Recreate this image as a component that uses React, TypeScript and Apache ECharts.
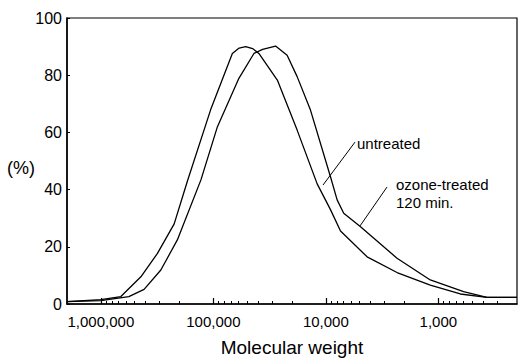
import React, { useEffect, useRef } from "react";
import * as echarts from "echarts";

// Molecular weight (x, log scale, reversed) and percentage (y)
const untreatedMW = [2000000, 1000000, 664000, 441000, 314000, 223000, 170000, 106000, 67800, 59000, 51600, 44800, 39400, 27000, 18000, 11950, 9100, 7410, 4300, 2330, 1180, 638, 370, 200];
const untreatedPct = [0.8, 1.5, 2.6, 9.5, 17.7, 28, 43, 67.8, 87.6, 89.5, 90, 89.3, 87.6, 78.3, 60.8, 42, 33, 25.5, 16.5, 11, 6.6, 3.5, 2.3, 2.3];

const ozoneMW = [2000000, 1000000, 564000, 413000, 293000, 209000, 129000, 92000, 59300, 43600, 36500, 28000, 22100, 18000, 13700, 9100, 7940, 6940, 4920, 2330, 1180, 597, 370, 200];
const ozonePct = [0.8, 1.15, 2.6, 5.1, 11.9, 22.4, 43.4, 62, 78.9, 87.6, 89, 90.2, 87, 79.5, 67.8, 44.5, 36.4, 31.7, 27, 16, 8.4, 4.3, 2.3, 2.3];

const majorTicks = [1000000, 100000, 10000, 1000];
const minorTicks = [
  900000, 800000, 700000, 600000, 500000, 400000, 300000, 200000,
  90000, 80000, 70000, 60000, 50000, 40000, 30000, 20000,
  9000, 8000, 7000, 6000, 5000, 4000, 3000, 2000,
  900, 800, 700, 600, 500, 400, 300,
];
const yTicks = [0, 20, 40, 60, 80, 100];

const FONT = "'Liberation Sans', Arial, Helvetica, sans-serif";

export default function App() {
  const ref = useRef<HTMLDivElement>(null);
  useEffect(() => {
    if (!ref.current) return;
    const chart = echarts.init(ref.current, null, { renderer: "svg" });
    const lineStyle = { color: "#000", width: 1.3 };
    const xBase = {
      type: "log" as const,
      logBase: 10,
      inverse: true,
      min: 200,
      max: 2000000,
      gridIndex: 0,
      splitLine: { show: false },
      minorSplitLine: { show: false },
    };
    chart.setOption({
      animation: false,
      backgroundColor: "#fff",
      grid: {
        left: 67,
        right: 1,
        top: 18,
        bottom: 58,
        show: true,
        borderColor: "#000",
        borderWidth: 1.2,
        backgroundColor: "transparent",
      },
      xAxis: [
        {
          ...xBase,
          position: "bottom",
          axisLine: { show: true, lineStyle: { color: "#000", width: 1.5 } },
          axisTick: { show: true, inside: true, length: 6, customValues: majorTicks, lineStyle: { color: "#000", width: 1.2 } },
          axisLabel: {
            show: true,
            customValues: majorTicks,
            margin: 10,
            fontSize: 15,
            fontFamily: FONT,
            color: "#000",
            formatter: (v: number) => Math.round(v).toLocaleString("en-US"),
          },
          name: "Molecular weight",
          nameLocation: "middle",
          nameGap: 34,
          nameTextStyle: { fontSize: 19, fontFamily: FONT, color: "#000" },
        },
        {
          ...xBase,
          position: "bottom",
          axisLine: { show: false },
          axisTick: { show: true, inside: true, length: 3, customValues: minorTicks, lineStyle: { color: "#000", width: 1 } },
          axisLabel: { show: false },
        },
      ],
      yAxis: {
        type: "value",
        min: 0,
        max: 100,
        interval: 20,
        axisLine: { show: true, lineStyle: { color: "#000", width: 1.5 } },
        axisTick: { show: true, inside: true, length: 3, lineStyle: { color: "#000" } },
        axisLabel: {
          margin: 5,
          fontSize: 16,
          fontFamily: FONT,
          color: "#000",
          customValues: yTicks,
        },
        splitLine: { show: false },
      },
      series: [
        {
          name: "untreated",
          type: "line",
          xAxisIndex: 0,
          data: untreatedMW.map((m, i) => [m, untreatedPct[i]]),
          symbol: "none",
          lineStyle,
          markLine: {
            silent: true,
            symbol: ["none", "none"],
            label: { show: false },
            lineStyle: { color: "#000", width: 1, type: "solid" },
            data: [[{ coord: [5510, 56.6] }, { coord: [10600, 41.6] }]],
          },
        },
        {
          name: "ozone-treated 120 min.",
          type: "line",
          xAxisIndex: 0,
          data: ozoneMW.map((m, i) => [m, ozonePct[i]]),
          symbol: "none",
          lineStyle,
          markLine: {
            silent: true,
            symbol: ["none", "none"],
            label: { show: false },
            lineStyle: { color: "#000", width: 1, type: "solid" },
            data: [[{ coord: [2860, 40.9] }, { coord: [4970, 27.3] }]],
          },
        },
      ],
      graphic: [
        {
          type: "text",
          x: 7,
          y: 168,
          style: { text: "(%)", fontSize: 18, fontFamily: FONT, fill: "#000", verticalAlign: "middle" },
        },
        {
          type: "text",
          x: 357,
          y: 143,
          style: { text: "untreated", fontSize: 15, fontFamily: FONT, fill: "#000", verticalAlign: "middle" },
        },
        {
          type: "text",
          x: 396,
          y: 184,
          style: { text: "ozone-treated", fontSize: 15, fontFamily: FONT, fill: "#000", verticalAlign: "middle" },
        },
        {
          type: "text",
          x: 396,
          y: 202,
          style: { text: "120 min.", fontSize: 15, fontFamily: FONT, fill: "#000", verticalAlign: "middle" },
        },
      ],
    });
    return () => chart.dispose();
  }, []);
  return (
    <div
      ref={ref}
      style={{ position: "fixed", left: 0, top: 0, width: 518, height: 362, background: "#fff" }}
    />
  );
}
